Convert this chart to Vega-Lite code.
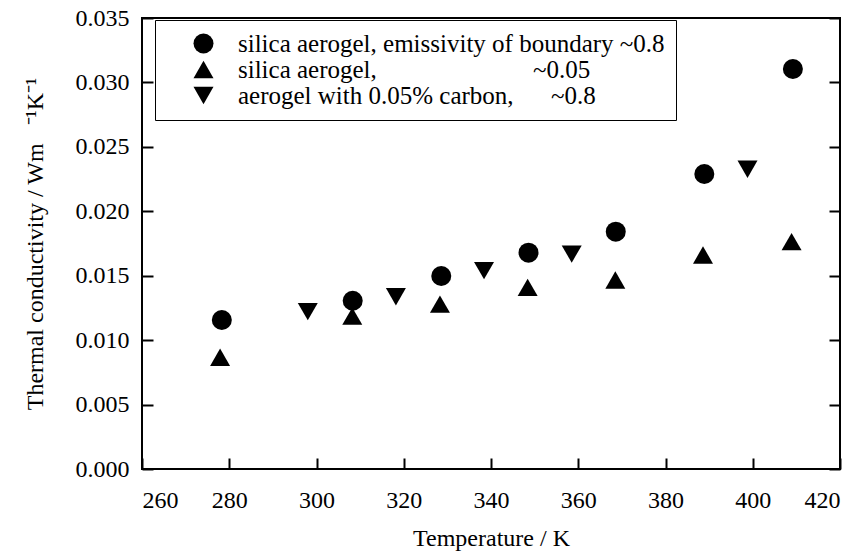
{
  "$schema": "https://vega.github.io/schema/vega-lite/v6.json",
  "autosize": "none",
  "width": 698,
  "height": 451,
  "padding": {"left": 142, "top": 18, "right": 25, "bottom": 84},
  "background": "white",
  "config": {
    "font": "Liberation Serif",
    "view": {"stroke": "black", "strokeWidth": 2},
    "axis": {"grid": false, "domain": false, "tickColor": "black", "tickWidth": 2, "labelColor": "black", "titleColor": "black", "labelFont": "Liberation Serif", "titleFont": "Liberation Serif", "labelFontSize": 24, "titleFontSize": 24, "titleFontWeight": "normal"}
  },
  "data": {
    "values": [
      {"series": "circle", "T": 278.3, "k": 0.01156},
      {"series": "circle", "T": 308.3, "k": 0.01306},
      {"series": "circle", "T": 328.6, "k": 0.01498},
      {"series": "circle", "T": 348.6, "k": 0.01679},
      {"series": "circle", "T": 368.6, "k": 0.01842},
      {"series": "circle", "T": 388.9, "k": 0.02289},
      {"series": "circle", "T": 409.2, "k": 0.03104},
      {"series": "up", "T": 277.9, "k": 0.00867},
      {"series": "up", "T": 308.2, "k": 0.01187},
      {"series": "up", "T": 328.3, "k": 0.0128},
      {"series": "up", "T": 348.4, "k": 0.0141},
      {"series": "up", "T": 368.5, "k": 0.01467},
      {"series": "up", "T": 388.6, "k": 0.01661},
      {"series": "up", "T": 408.9, "k": 0.01764},
      {"series": "down", "T": 298.0, "k": 0.01221},
      {"series": "down", "T": 318.2, "k": 0.01337},
      {"series": "down", "T": 338.4, "k": 0.01539},
      {"series": "down", "T": 358.5, "k": 0.01668},
      {"series": "down", "T": 398.8, "k": 0.02326}
    ]
  },
  "layer": [
    {
      "mark": {"type": "point", "filled": true, "size": 400, "opacity": 1, "color": "black"},
      "encoding": {
        "x": {"field": "T", "type": "quantitative", "scale": {"domain": [260, 420], "nice": false, "zero": false},
          "axis": {"values": [260, 280, 300, 320, 340, 360, 380, 400, 420], "tickSize": -11, "labelPadding": 30, "title": "Temperature / K", "titlePadding": 14}},
        "y": {"field": "k", "type": "quantitative", "scale": {"domain": [0, 0.035], "nice": false},
          "axis": {"values": [0, 0.005, 0.01, 0.015, 0.02, 0.025, 0.03, 0.035], "format": ".3f", "tickSize": -11, "labelPadding": 24, "title": "Thermal conductivity / Wm\u00a0\u00a0\u00a0\u207b\u00b9K\u207b\u00b9", "titlePadding": 28}},
        "shape": {"field": "series", "type": "nominal",
          "scale": {"domain": ["circle", "up", "down"], "range": ["circle", "triangle-up", "triangle-down"]},
          "legend": {
            "orient": "none", "legendX": 13, "legendY": 2, "title": null,
            "labelExpr": "datum.value == 'circle' ? 'silica aerogel, emissivity of boundary ~0.8\u00a0\u00a0\u00a0' : datum.value == 'up' ? 'silica aerogel,\u00a0\u00a0\u00a0\u00a0\u00a0\u00a0\u00a0\u00a0\u00a0\u00a0\u00a0\u00a0\u00a0\u00a0\u00a0\u00a0\u00a0\u00a0\u00a0\u00a0\u00a0\u00a0\u00a0\u00a0\u00a0~0.05' : 'aerogel with 0.05% carbon,\u00a0\u00a0\u00a0\u00a0\u00a0\u00a0~0.8'",
            "labelFont": "Liberation Serif", "labelFontSize": 25, "labelColor": "black", "labelLimit": 700,
            "symbolSize": 400, "symbolFillColor": "black", "symbolStrokeColor": "black", "symbolType": "circle",
            "strokeColor": "black", "fillColor": "white", "padding": 11,
            "symbolOffset": 25, "labelOffset": 22, "rowPadding": -1,
            "encode": {"legend": {"update": {"strokeWidth": {"value": 2.5}}}}
          }
        }
      }
    },
    {
      "mark": {"type": "point", "opacity": 0},
      "encoding": {
        "x": {"field": "T", "type": "quantitative"},
        "y": {"field": "k", "type": "quantitative", "axis": {"orient": "right", "labels": false, "title": null, "tickSize": -11, "values": [0, 0.005, 0.01, 0.015, 0.02, 0.025, 0.03, 0.035]}}
      }
    }
  ],
  "resolve": {"axis": {"y": "independent"}, "scale": {"y": "shared"}}
}
